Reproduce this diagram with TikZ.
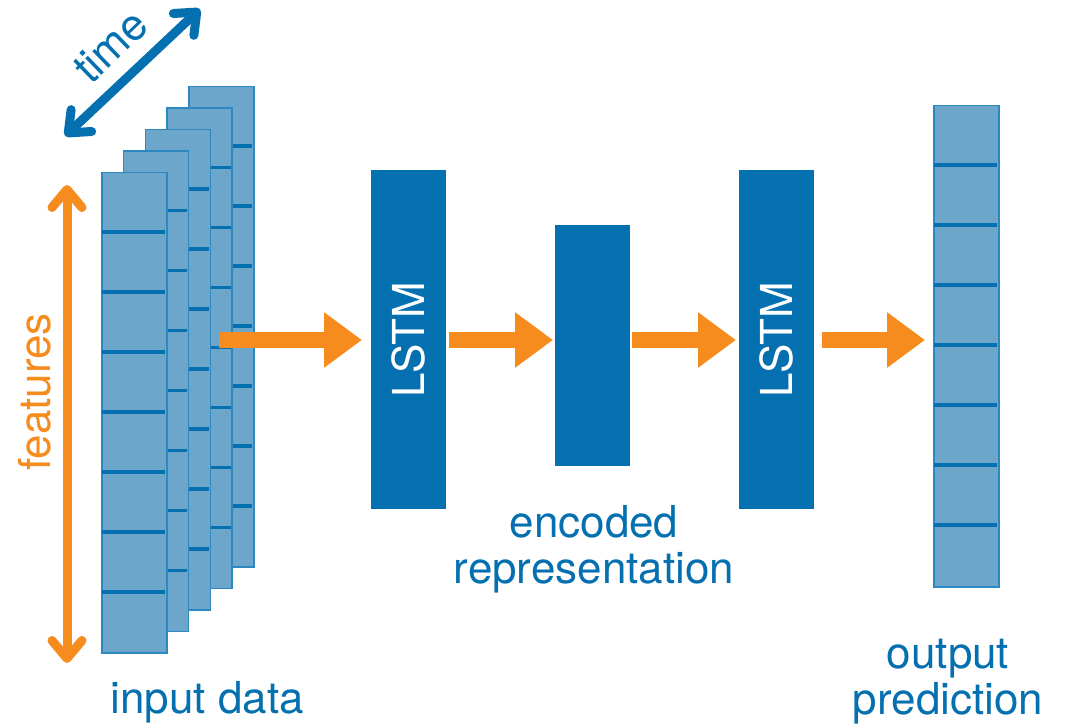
\documentclass[tikz,border=0pt]{standalone}
\usepackage{fontspec}
\setmainfont{TeX Gyre Heros}
\usetikzlibrary{arrows.meta}
\definecolor{cellblue}{RGB}{108,166,202}
\definecolor{darkblue}{RGB}{5,112,176}
\definecolor{edgeblue}{RGB}{45,135,192}
\definecolor{orng}{RGB}{247,140,30}
\begin{document}
\begin{tikzpicture}[x=1pt,y=-1pt,
  font=\fontsize{44}{46}\selectfont,
  frame/.style={draw=edgeblue, line width=1.5pt, fill=cellblue, minimum width=65pt, minimum height=480pt, inner sep=0pt, anchor=north west},
  divider/.style={draw=darkblue, line width=3.5pt},
  layer/.style={fill=darkblue, draw=none, inner sep=0pt, minimum width=75pt, anchor=north west, text=white},
  flow/.style={draw=orng, line width=16pt, -{Triangle[length=38pt,width=53pt]}},
  axis/.style={line width=9pt, line cap=round, {Straight Barb[length=18pt,width=30pt,round]}-{Straight Barb[length=18pt,width=30pt,round]}},
  lbl/.style={text=darkblue, align=center, anchor=base},
]
\useasboundingbox (0,0) rectangle (1071,727);

% input data: stacked time frames
\foreach \k in {4,3,2,1,0} {
  \pgfmathsetmacro\fx{101+21.75*\k}
  \pgfmathsetmacro\fy{172-21.5*\k}
  \node[frame] (f\k) at (\fx,\fy) {};
  \foreach \i in {1,...,7} \draw[divider] (\fx+0.75,\fy+60*\i) -- ++(63.5,0);
}

% layers
\node[layer, minimum height=339pt] (lstm1) at (371,170) {\rotatebox{90}{LSTM}};
\node[layer, minimum height=241pt] (enc) at (555,225) {};
\node[layer, minimum height=339pt] (lstm2) at (739,170) {\rotatebox{90}{LSTM}};

% output prediction column
\node[frame, minimum height=481pt] (out) at (933,105) {};
\foreach \i in {1,...,7} \draw[divider] (933.75,105+60*\i) -- ++(63.5,0);

% flow arrows
\coordinate (a1s) at (219,340);
\draw[flow, shorten >=9pt] (a1s) -- (a1s -| lstm1.west);
\draw[flow, shorten <=3pt, shorten >=2pt] (a1s -| lstm1.east) -- (a1s -| enc.west);
\draw[flow, shorten <=2pt, shorten >=3pt] (a1s -| enc.east) -- (a1s -| lstm2.west);
\draw[flow, shorten <=8pt, shorten >=8pt] (a1s -| lstm2.east) -- (a1s -| out.west);

% axes
\coordinate (ftop) at (67,185);
\coordinate (fbot) at (67,663);
\draw[axis, draw=orng] (ftop) -- (fbot);
\node[rotate=90, anchor=base, text=orng] (featlbl) at (50,392) {features};

\coordinate (tlow) at (65,136);
\coordinate (thigh) at (200,9);
\draw[axis, draw=darkblue] (tlow) -- (thigh);
\node[rotate=44, anchor=base, text=darkblue] (timelbl) at (121,57) {time};

% labels
\node[lbl] (inlbl) at (207,713) {input data};
\node[lbl] (enclbl) at (594,583) {encoded\\representation};
\node[lbl] (outlbl) at (948,714) {output\\prediction};
\end{tikzpicture}
\end{document}
